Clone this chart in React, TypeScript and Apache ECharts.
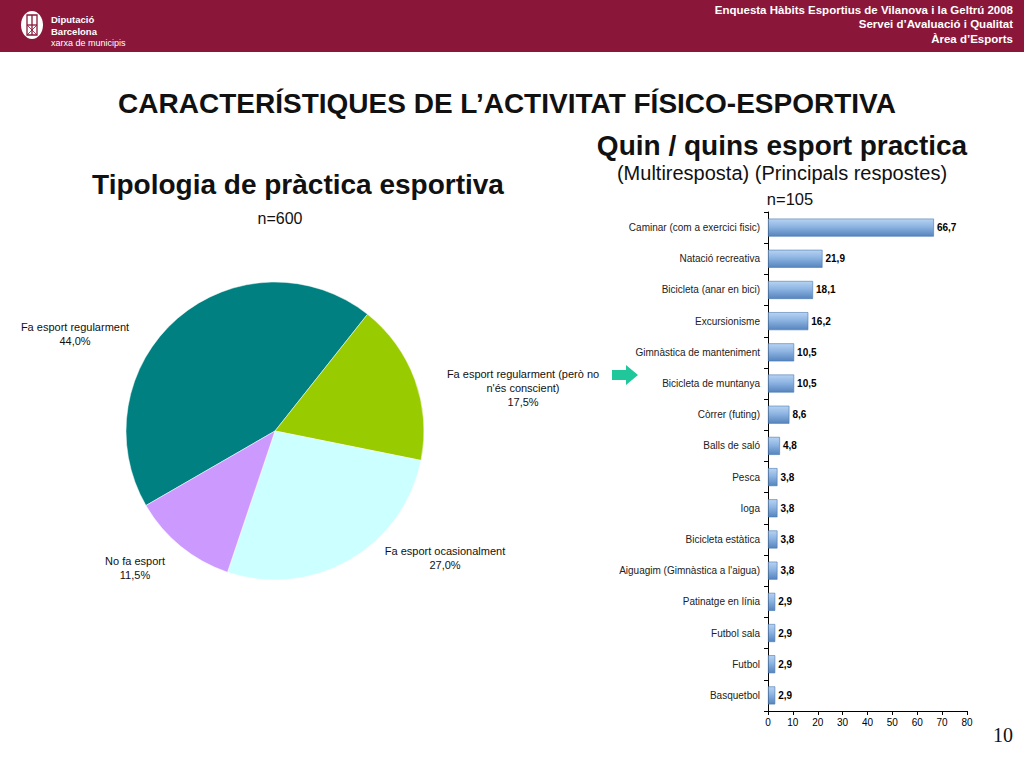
import React, { useEffect, useRef } from "react";
import * as echarts from "echarts";

const pieNames = [
  "Fa esport regularment",
  "Fa esport regularment (però no\nn'és conscient)",
  "Fa esport ocasionalment",
  "No fa esport",
];
const pieValues = [44.0, 17.5, 27.0, 11.5];
const pieColors = ["#008080", "#99cc00", "#ccffff", "#cc99ff"];

const barCategories = [
  "Caminar (com a exercici fisic)",
  "Natació recreativa",
  "Bicicleta (anar en bici)",
  "Excursionisme",
  "Gimnàstica de manteniment",
  "Bicicleta de muntanya",
  "Còrrer (futing)",
  "Balls de saló",
  "Pesca",
  "Ioga",
  "Bicicleta estàtica",
  "Aiguagim (Gimnàstica a l'aigua)",
  "Patinatge en línia",
  "Futbol sala",
  "Futbol",
  "Basquetbol",
];
const barValues = [66.7, 21.9, 18.1, 16.2, 10.5, 10.5, 8.6, 4.8, 3.8, 3.8, 3.8, 3.8, 2.9, 2.9, 2.9, 2.9];
const xTicks = [0, 10, 20, 30, 40, 50, 60, 70, 80];

const fmt = (v: number) => v.toFixed(1).replace(".", ",");

export default function App() {
  const ref = useRef<HTMLDivElement>(null);
  useEffect(() => {
    document.body.style.margin = "0";
    const chart = echarts.init(ref.current!, undefined, { renderer: "svg" });
    const labelPos = [
      [75, 334],
      [523, 388],
      [445, 558],
      [135, 568],
    ];
    const font = "'Liberation Sans', Arial, sans-serif";
    chart.setOption({
      animation: false,
      backgroundColor: "#ffffff",
      textStyle: { fontFamily: font },
      grid: { left: 768, top: 212, width: 199, height: 499 },
      xAxis: {
        type: "value",
        min: xTicks[0],
        max: xTicks[xTicks.length - 1],
        interval: 10,
        splitLine: { show: false },
        axisLine: { show: true, lineStyle: { color: "#000", width: 1 } },
        axisTick: { show: true, length: 4, lineStyle: { color: "#000" } },
        axisLabel: { fontSize: 10, color: "#000", fontFamily: font, margin: 6 },
      },
      yAxis: {
        type: "category",
        inverse: true,
        data: barCategories,
        axisLine: { show: true, lineStyle: { color: "#000", width: 1 } },
        axisTick: { show: true, length: 4, lineStyle: { color: "#000" } },
        axisLabel: { fontSize: 10, color: "#222", fontFamily: font, margin: 8 },
      },
      series: [
        {
          type: "pie",
          center: [275, 431],
          radius: 149,
          startAngle: 210,
          clockwise: true,
          data: pieNames.map((n, i) => ({ name: n, value: pieValues[i], itemStyle: { color: pieColors[i] } })),
          label: {
            show: true,
            position: "outside",
            formatter: (p: any) => `${p.name}\n${fmt(p.value)}%`,
            fontSize: 11,
            color: "#111",
            align: "center",
            lineHeight: 14,
            fontFamily: font,
          },
          labelLine: { show: false },
          labelLayout: (params: any) => ({
            x: labelPos[params.dataIndex][0],
            y: labelPos[params.dataIndex][1],
            align: "center",
            verticalAlign: "middle",
          }),
          itemStyle: { borderColor: "#ffffff", borderWidth: 0.5 },
          emphasis: { disabled: true },
        },
        {
          type: "bar",
          data: barValues,
          barWidth: 18,
          itemStyle: {
            color: new echarts.graphic.LinearGradient(0, 0, 0, 1, [
              { offset: 0, color: "#b7d3f2" },
              { offset: 0.45, color: "#8db4e2" },
              { offset: 1, color: "#5584bd" },
            ]),
            borderColor: "#4a78b0",
            borderWidth: 0.6,
          },
          label: {
            show: true,
            position: "right",
            distance: 3,
            formatter: (p: any) => fmt(p.value),
            fontSize: 10,
            fontWeight: "bold",
            color: "#000",
            fontFamily: font,
          },
          emphasis: { disabled: true },
        },
      ],
      graphic: [
        { type: "rect", shape: { x: 0, y: 0, width: 1024, height: 52 }, style: { fill: "#8a1739" }, silent: true },
        { type: "ellipse", shape: { cx: 32, cy: 25, rx: 11, ry: 14 }, style: { fill: "#ffffff" } },
        { type: "rect", shape: { x: 27, y: 15, width: 10, height: 20 }, style: { fill: "none", stroke: "#8a1739", lineWidth: 1.3 } },
        { type: "line", shape: { x1: 27, y1: 25, x2: 37, y2: 25 }, style: { stroke: "#8a1739", lineWidth: 1.3 } },
        { type: "line", shape: { x1: 32, y1: 15, x2: 32, y2: 35 }, style: { stroke: "#8a1739", lineWidth: 1.3 } },
        { type: "line", shape: { x1: 27, y1: 35, x2: 37, y2: 25 }, style: { stroke: "#8a1739", lineWidth: 0.8 } },
        { type: "line", shape: { x1: 27, y1: 25, x2: 37, y2: 35 }, style: { stroke: "#8a1739", lineWidth: 0.8 } },
        { type: "text", x: 51, y: 19, style: { text: "Diputació", fill: "#fff", font: `bold 9.5px ${font}`, verticalAlign: "middle" } },
        { type: "text", x: 51, y: 31, style: { text: "Barcelona", fill: "#fff", font: `bold 9.5px ${font}`, verticalAlign: "middle" } },
        { type: "text", x: 51, y: 43, style: { text: "xarxa de municipis", fill: "#fff", font: `9px ${font}`, verticalAlign: "middle" } },
        { type: "text", x: 1013, y: 10, style: { text: "Enquesta Hàbits Esportius de Vilanova i la Geltrú 2008", fill: "#fff", font: `bold 11.5px ${font}`, align: "right", verticalAlign: "middle" } },
        { type: "text", x: 1013, y: 24, style: { text: "Servei d\u2019Avaluació i Qualitat", fill: "#fff", font: `bold 11.5px ${font}`, align: "right", verticalAlign: "middle" } },
        { type: "text", x: 1013, y: 39, style: { text: "Àrea d\u2019Esports", fill: "#fff", font: `bold 11.5px ${font}`, align: "right", verticalAlign: "middle" } },
        { type: "text", x: 507, y: 103, style: { text: "CARACTERÍSTIQUES DE L\u2019ACTIVITAT FÍSICO-ESPORTIVA", fill: "#111", font: `bold 28px ${font}`, align: "center", verticalAlign: "middle" } },
        { type: "text", x: 782, y: 145, style: { text: "Quin / quins esport practica", fill: "#111", font: `bold 28px ${font}`, align: "center", verticalAlign: "middle" } },
        { type: "text", x: 782, y: 173, style: { text: "(Multiresposta) (Principals respostes)", fill: "#111", font: `20px ${font}`, align: "center", verticalAlign: "middle" } },
        { type: "text", x: 790, y: 199, style: { text: "n=105", fill: "#111", font: `16.5px ${font}`, align: "center", verticalAlign: "middle" } },
        { type: "text", x: 298, y: 184, style: { text: "Tipologia de pràctica esportiva", fill: "#111", font: `bold 28px ${font}`, align: "center", verticalAlign: "middle" } },
        { type: "text", x: 280, y: 218, style: { text: "n=600", fill: "#111", font: `16px ${font}`, align: "center", verticalAlign: "middle" } },
        { type: "polygon", shape: { points: [[612, 370], [626, 370], [626, 365], [638, 375], [626, 385], [626, 380], [612, 380]] }, style: { fill: "#1fc79a" } },
        { type: "text", x: 1003, y: 735, style: { text: "10", fill: "#111", font: `20px 'Liberation Serif', 'Times New Roman', serif`, align: "center", verticalAlign: "middle" } },
      ],
    });
    return () => chart.dispose();
  }, []);
  return <div ref={ref} style={{ position: "absolute", left: 0, top: 0, width: 1024, height: 768 }} />;
}
